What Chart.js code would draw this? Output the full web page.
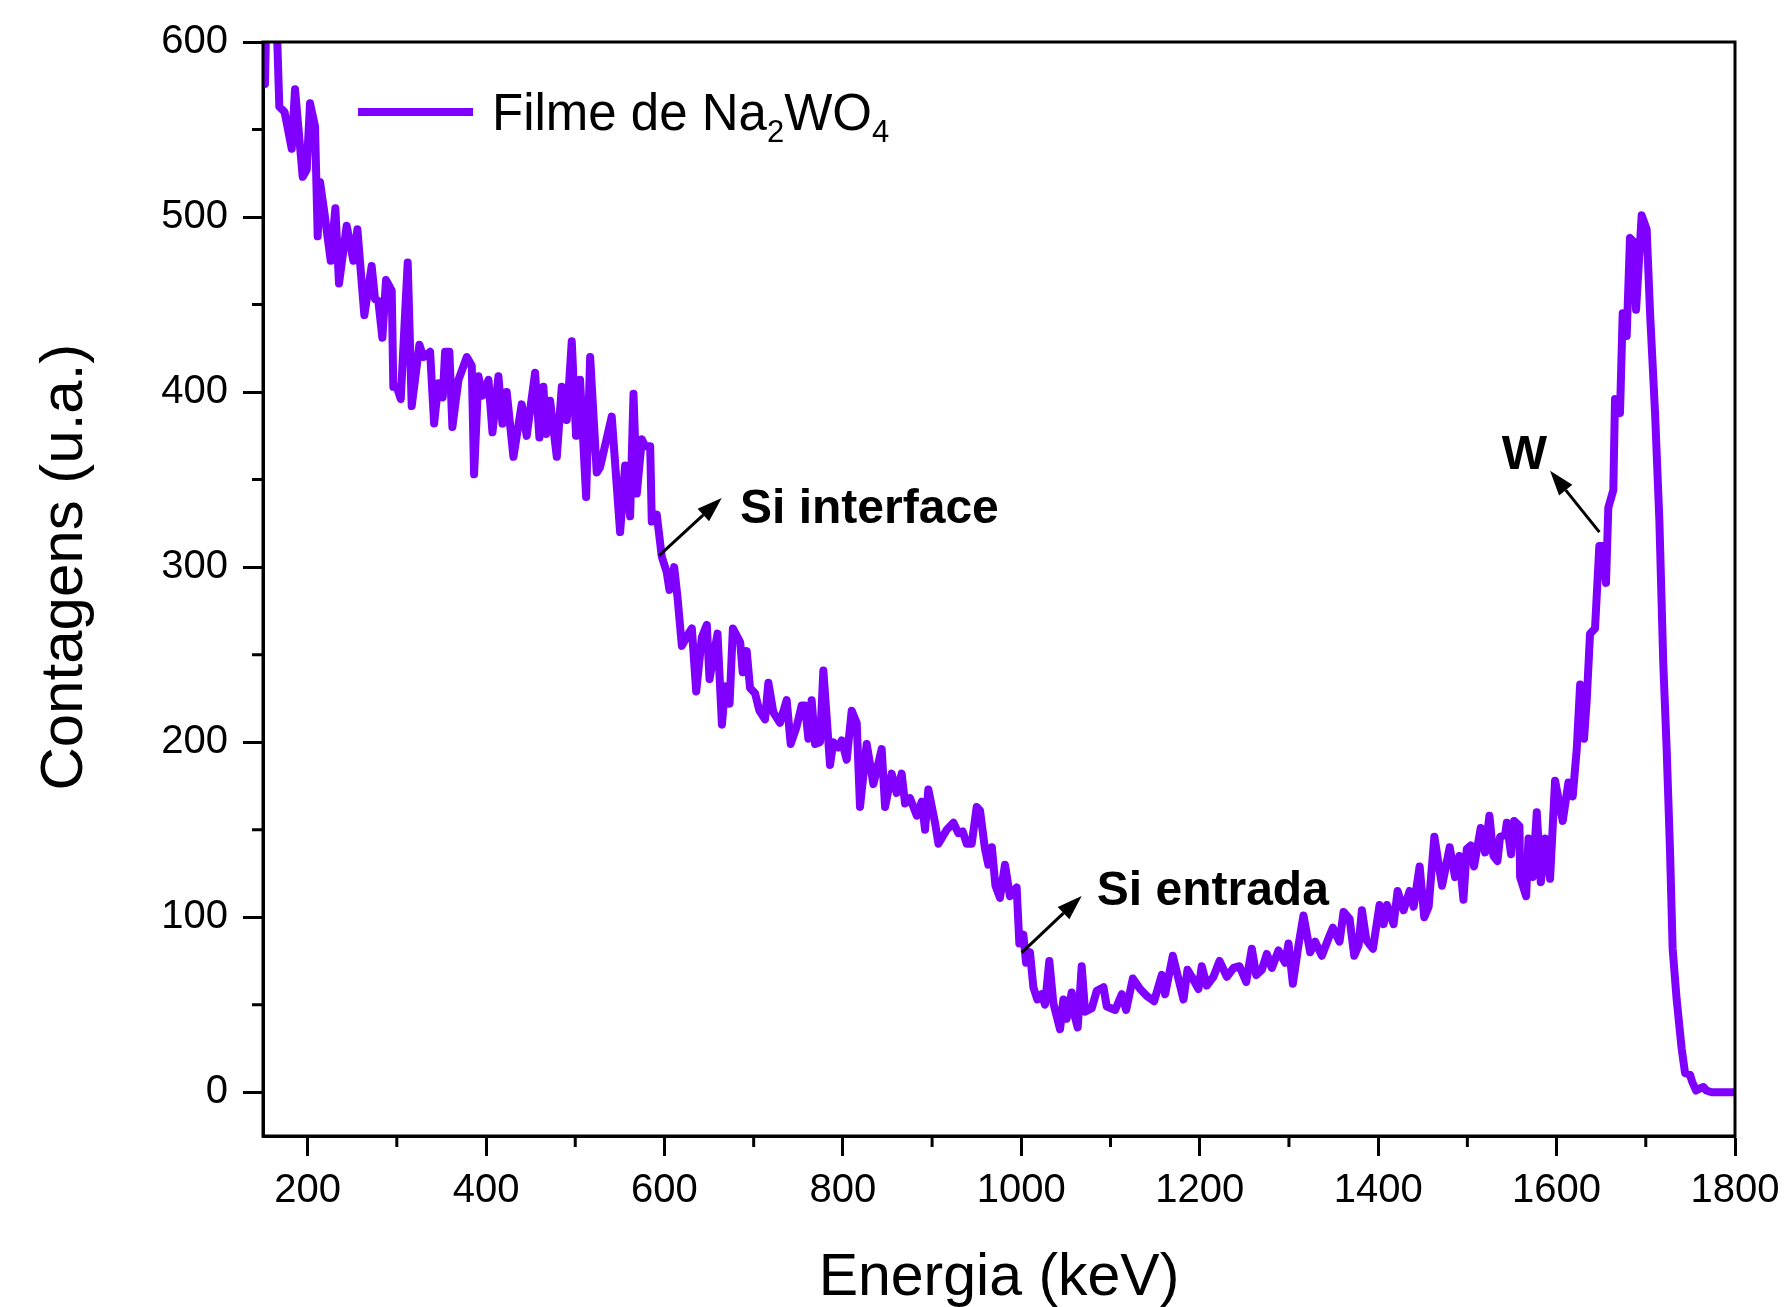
<!DOCTYPE html>
<html lang="pt-BR">
<head>
<meta charset="UTF-8">
<title>Filme de Na2WO4</title>
<script src="https://cdn.jsdelivr.net/npm/chart.js"></script>
<style>
    html, body { margin: 0; padding: 0; background: #fff; }
    #grafico { display: block; }
</style>
</head>
<body>
<canvas id="grafico" width="1787" height="1307"></canvas>
<script>
    const energia = [
        152.2, 155, 163, 168.3, 174.2, 182.2, 185.9, 194.5, 199, 202.7,
        208.3, 211.3, 213.9, 218.4, 225.9, 231.1, 235.2, 243.8, 251.3, 255.8,
        263.6, 271.8, 275.6, 279.3, 283.8, 287.9, 294.3, 296.1, 299.9, 304.4,
        312.2, 316.7, 325.3, 329.8, 337.3, 341.8, 346.6, 351.5, 354.1, 358.9,
        362.3, 369.1, 378.4, 384, 386.6, 391.5, 396, 402.7, 407.2, 413.9,
        418.4, 423.2, 430.7, 440, 445.6, 455, 459.8, 464.3, 467.3, 471.8,
        479.3, 484.9, 490.5, 496.1, 500.9, 505.4, 512.2, 516.7, 524.1, 527.8,
        540.9, 550.3, 555.9, 561.5, 565.3, 569, 574.6, 578.4, 584, 585.8,
        591.4, 597, 602.6, 605.6, 610.9, 614.6, 619.5, 627, 630.7, 635.6,
        641.9, 647.5, 650.5, 659.5, 664.4, 668.1, 673, 676.7, 684.9, 687.7,
        692.2, 695.9, 701.5, 706.4, 712.7, 716.5, 722.1, 729.5, 737, 741.5,
        748.2, 753.8, 757.5, 761.3, 765, 768.8, 774.4, 778.1, 785.6, 789.3,
        794.9, 798.7, 804.3, 809.9, 815.5, 819.2, 826.7, 834.2, 843.5, 847.3,
        854.7, 860.3, 865.9, 869.7, 875.3, 882.8, 888.4, 892.1, 895.8, 903.3,
        907.1, 916.4, 923.9, 929.5, 934.3, 938.8, 944.4, 950, 953.7, 959.3,
        963, 967, 971, 976.1, 981.7, 987.3, 994.8, 997.8, 1002.3, 1005.3,
        1009.7, 1013.5, 1018, 1022.8, 1026.6, 1031.4, 1035.9, 1043.4, 1047.2, 1050.9,
        1056.5, 1059.1, 1063.2, 1067.7, 1071.5, 1079, 1084.6, 1092.1, 1095.8, 1105.2,
        1112.6, 1117.5, 1125, 1133.2, 1140.7, 1148.9, 1157.5, 1161.2, 1169.8, 1181.8,
        1186.3, 1191.1, 1198.6, 1202.3, 1207.9, 1215.4, 1222.2, 1230.4, 1237.9, 1244.6,
        1252.1, 1258.4, 1263.3, 1269.6, 1275.2, 1280.8, 1288.3, 1295.8, 1299.5, 1304.4,
        1310.7, 1316.3, 1323.8, 1329.4, 1336.9, 1344.4, 1349.2, 1356.7, 1361.2, 1368,
        1373.2, 1378.1, 1381.8, 1386.7, 1394.2, 1401.6, 1406.1, 1409.9, 1417.3, 1421.8,
        1428.5, 1435.3, 1439.8, 1446.5, 1451.7, 1456.6, 1463, 1471.6, 1480.2, 1486.2,
        1491.1, 1495.6, 1499.3, 1503.8, 1507.5, 1515, 1519.9, 1524.7, 1529.2, 1533.7,
        1536.7, 1542.3, 1544.2, 1549, 1552.4, 1558.4, 1559.1, 1565.9, 1568.5, 1573.3,
        1577.8, 1582.3, 1587.1, 1592.7, 1598.3, 1606.9, 1613.3, 1618.1, 1622.6, 1626.4,
        1630.8, 1633.8, 1637.5, 1643.1, 1647.9, 1651.7, 1655.4, 1658, 1663.6, 1665.5,
        1671.1, 1674.1, 1678.6, 1682.3, 1686.1, 1689.1, 1695.4, 1701, 1704.8, 1710.4,
        1715.2, 1719.6, 1723.4, 1727.1, 1730.1, 1734.6, 1740.2, 1744, 1749.6, 1752,
        1756.3, 1760, 1764.5, 1768, 1773.9, 1785, 1800
    ];
    const contagens = [
        576, 650, 650, 563, 560, 539, 573, 523, 527, 565,
        552, 489, 520, 504, 475, 505, 462, 495, 475, 493,
        444, 472, 453, 452, 431, 464, 458, 403, 403, 396,
        474, 392, 427, 420, 423, 382, 405, 397, 423, 423,
        380, 407, 420, 415, 353, 409, 398, 407, 377, 409,
        382, 400, 363, 393, 375, 411, 374, 403, 376, 395,
        363, 403, 384, 429, 375, 407, 340, 420, 354, 357,
        386, 320, 358, 329, 399, 342, 373, 369, 369, 326,
        330, 306, 297, 287, 300, 283, 255, 262, 265, 229,
        260, 267, 236, 262, 210, 232, 222, 265, 257, 240,
        252, 231, 228, 218, 213, 234, 217, 211, 224, 199,
        209, 221, 221, 202, 224, 199, 200, 241, 187, 200,
        197, 201, 190, 218, 211, 163, 199, 176, 196, 163,
        182, 171, 182, 165, 168, 158, 166, 150, 173, 154,
        142, 150, 154, 148, 149, 142, 142, 163, 161, 139,
        130, 140, 118, 111, 130, 112, 117, 85, 90, 74,
        80, 60, 53, 56, 50, 75, 51, 36, 53, 42,
        57, 45, 37, 72, 46, 48, 58, 60, 49, 47,
        56, 47, 65, 59, 55, 52, 67, 56, 78, 53,
        70, 66, 59, 72, 61, 66, 75, 66, 71, 72,
        63, 82, 67, 70, 79, 71, 81, 74, 85, 62,
        84, 101, 80, 86, 78, 88, 94, 86, 103, 99,
        78, 84, 104, 87, 82, 107, 96, 107, 96, 115,
        104, 115, 106, 129, 100, 106, 146, 118, 140, 123,
        135, 110, 139, 141, 129, 151, 137, 158, 135, 132,
        146, 147, 154, 136, 155, 152, 123, 112, 145, 123,
        160, 120, 145, 122, 178, 155, 177, 169, 196, 233,
        202, 224, 262, 265, 312, 312, 291, 334, 344, 396,
        388, 445, 432, 488, 486, 447, 501, 493, 445, 388,
        327, 245, 196, 139, 82, 53, 25, 11, 10, 6,
        1, 2, 3, 1, 0, 0, 0
    ];
    const ticksMenoresX = [300, 500, 700, 900, 1100, 1300, 1500, 1700];
    const ticksMenoresY = [50, 150, 250, 350, 450, 550];

    // rótulos das setas: texto, posição do texto e seta (em keV / contagens)
    const rotulos = ['Si interface', 'Si entrada', 'W'];
    const rotuloX = [684.7, 1084.6, 1538.5];
    const rotuloY = [325, 107, 356];
    const setaDeX = [594, 1000.5, 1648];
    const setaDeY = [306.6, 79.8, 320];
    const setaAteX = [664.2, 1067.7, 1592.7];
    const setaAteY = [339.5, 112.1, 355.1];

    const FONTE = "'Liberation Sans', Arial, sans-serif";
    const COR = '#7F00FF';

    function seta(ctx, x0, y0, x1, y1) {
        const ang = Math.atan2(y1 - y0, x1 - x0);
        const comp = 25, meia = 8.5;
        const bx = x1 - comp * Math.cos(ang), by = y1 - comp * Math.sin(ang);
        ctx.beginPath();
        ctx.moveTo(x0, y0);
        ctx.lineTo(bx, by);
        ctx.stroke();
        ctx.beginPath();
        ctx.moveTo(x1, y1);
        ctx.lineTo(bx + meia * Math.sin(ang), by - meia * Math.cos(ang));
        ctx.lineTo(bx - meia * Math.sin(ang), by + meia * Math.cos(ang));
        ctx.closePath();
        ctx.fill();
    }

    const extras = {
        id: 'extras',
        afterDatasetsDraw(chart) {
            const { ctx, chartArea: a, scales: { x, y } } = chart;
            ctx.save();
            ctx.strokeStyle = '#000';
            ctx.fillStyle = '#000';
            ctx.lineWidth = 3;
            ctx.strokeRect(a.left, a.top, a.right - a.left, a.bottom - a.top);

            // ticks menores
            ctx.beginPath();
            ticksMenoresX.forEach(v => {
                const px = x.getPixelForValue(v);
                ctx.moveTo(px, a.bottom);
                ctx.lineTo(px, a.bottom + 11);
            });
            ticksMenoresY.forEach(v => {
                const py = y.getPixelForValue(v);
                ctx.moveTo(a.left, py);
                ctx.lineTo(a.left - 11, py);
            });
            ctx.stroke();

            // títulos dos eixos
            ctx.font = '59px ' + FONTE;
            ctx.textAlign = 'center';
            ctx.textBaseline = 'alphabetic';
            ctx.fillText('Energia (keV)', (a.left + a.right) / 2, 1295);
            ctx.save();
            ctx.translate(82, y.getPixelForValue(300));
            ctx.rotate(-Math.PI / 2);
            ctx.font = '60px ' + FONTE;
            ctx.fillText('Contagens (u.a.)', 0, 0);
            ctx.restore();

            // setas e rótulos
            ctx.font = 'bold 48px ' + FONTE;
            ctx.textAlign = 'left';
            rotulos.forEach((t, i) => {
                ctx.fillText(t, x.getPixelForValue(rotuloX[i]), y.getPixelForValue(rotuloY[i]));
                seta(ctx, x.getPixelForValue(setaDeX[i]), y.getPixelForValue(setaDeY[i]),
                    x.getPixelForValue(setaAteX[i]), y.getPixelForValue(setaAteY[i]));
            });

            // legenda
            const ds = chart.data.datasets[0];
            ctx.strokeStyle = ds.borderColor;
            ctx.lineWidth = 8;
            ctx.beginPath();
            ctx.moveTo(a.left + 95, a.top + 70);
            ctx.lineTo(a.left + 210, a.top + 70);
            ctx.stroke();
            let lx = a.left + 229;
            const ly = a.top + 88;
            const partes = [['Filme de Na', 0], ['2', 1], ['WO', 0], ['4', 1]];
            partes.forEach(([txt, sub]) => {
                ctx.font = (sub ? '31px ' : '51px ') + FONTE;
                ctx.fillText(txt, lx, ly + (sub ? 12 : 0));
                lx += ctx.measureText(txt).width;
            });
            ctx.restore();
        }
    };

    const ctx = document.getElementById('grafico').getContext('2d');
    new Chart(ctx, {
        type: 'line',
        data: {
            datasets: [{
                label: 'Filme de Na₂WO₄',
                data: energia.map((e, i) => ({ x: e, y: contagens[i] })),
                borderColor: COR,
                borderWidth: 8,
                borderJoinStyle: 'round',
                borderCapStyle: 'round',
                pointRadius: 0,
                tension: 0,
                fill: false,
                clip: 0
            }]
        },
        options: {
            responsive: false,
            animation: false,
            devicePixelRatio: 1,
            layout: { padding: { top: 42, right: 52, left: 0, bottom: 0 } },
            plugins: {
                legend: { display: false },
                tooltip: { enabled: false }
            },
            scales: {
                x: {
                    type: 'linear',
                    min: 150,
                    max: 1800,
                    ticks: {
                        stepSize: 200,
                        includeBounds: false,
                        color: '#000',
                        padding: 11,
                        maxRotation: 0,
                        font: { family: FONTE, size: 40 },
                        callback: v => String(v)
                    },
                    grid: {
                        drawOnChartArea: false,
                        tickLength: 20,
                        tickWidth: 3,
                        tickColor: '#000'
                    },
                    border: { display: true, color: '#000', width: 3 },
                    afterFit: s => { s.height = 171; s.paddingLeft = 0; s.paddingRight = 0; }
                },
                y: {
                    min: -25,
                    max: 600,
                    ticks: {
                        stepSize: 100,
                        includeBounds: false,
                        color: '#000',
                        padding: 15,
                        font: { family: FONTE, size: 40 },
                        callback: v => String(v)
                    },
                    grid: {
                        drawOnChartArea: false,
                        tickLength: 20,
                        tickWidth: 3,
                        tickColor: '#000'
                    },
                    border: { display: true, color: '#000', width: 3 },
                    afterFit: s => { s.width = 263; s.paddingTop = 0; s.paddingBottom = 0; }
                }
            }
        },
        plugins: [extras]
    });
</script>
</body>
</html>
